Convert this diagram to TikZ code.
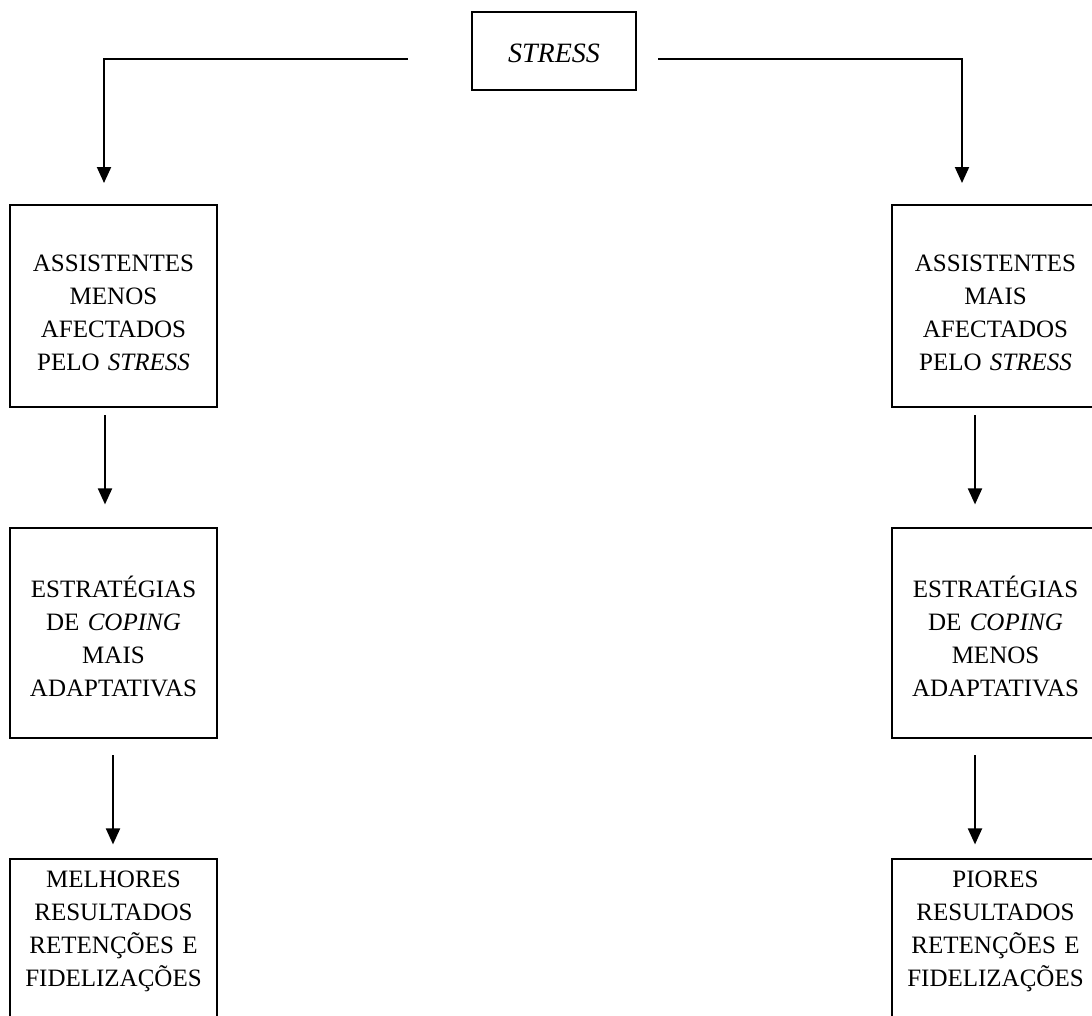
\documentclass[tikz,border=0pt]{standalone}
\usepackage{fontspec}
\setmainfont{Liberation Serif}
\usepackage{tikz}
\usetikzlibrary{arrows.meta}
\usetikzlibrary{calc}

\begin{document}
\begin{tikzpicture}[x=1pt,y=-1pt,
  box/.style={draw,line width=2.4pt,inner sep=0pt,text width=207pt,align=center,anchor=north,font=\fontsize{25}{33}\selectfont},
  conn/.style={line width=2pt,-{Triangle[length=16pt,width=14pt]}}]
\useasboundingbox (0,0) rectangle (1092,1015);
\clip (0,0) rectangle (1092,1015);

\node[box,text width=164pt,text height=50pt,text depth=28pt,font=\fontsize{28}{33}\selectfont] (stress) at (554,11) {\textit{STRESS}};

% left column
\node[box,text height=66pt,text depth=136pt] (lass) at (113.5,204) {ASSISTENTES\\MENOS\\AFECTADOS\\PELO \textit{STRESS}};
\node[box,text height=69pt,text depth=141pt] (lcop) at (113.5,527) {ESTRATÉGIAS\\DE \textit{COPING}\\MAIS\\ADAPTATIVAS};
\node[box,text height=28pt,text depth=200pt] (lres) at (113.5,858) {MELHORES\\RESULTADOS\\RETENÇÕES E\\FIDELIZAÇÕES};

% right column
\node[box,text height=66pt,text depth=136pt] (rass) at (995.5,204) {ASSISTENTES\\MAIS\\AFECTADOS\\PELO \textit{STRESS}};
\node[box,text height=69pt,text depth=141pt] (rcop) at (995.5,527) {ESTRATÉGIAS\\DE \textit{COPING}\\MENOS\\ADAPTATIVAS};
\node[box,text height=28pt,text depth=200pt] (rres) at (995.5,858) {PIORES\\RESULTADOS\\RETENÇÕES E\\FIDELIZAÇÕES};

\draw[conn] (stress.west) ++(-63,8) -| ($(lass.north)+(-9.5,-21)$);
\draw[conn] (stress.east) ++(21,8) -| ($(rass.north)+(-33.5,-21)$);

\foreach \a/\dx/\dy in {lass/-8.5/7, lcop/-0.5/16, rass/-20.5/7, rcop/-20.5/16}
    \draw[conn] (\a.south) ++(\dx,\dy) -- ++(0,89);
\end{tikzpicture}
\end{document}
